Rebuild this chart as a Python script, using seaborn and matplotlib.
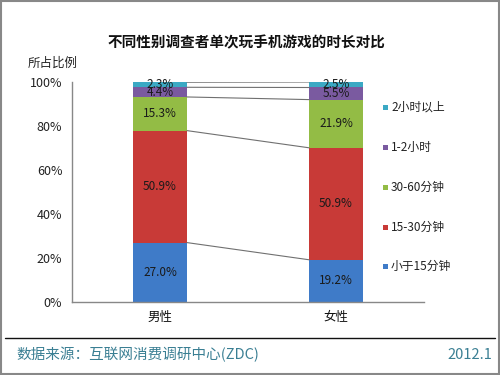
import numpy as np
import pandas as pd
import matplotlib
matplotlib.use("Agg")
import matplotlib.pyplot as plt
from matplotlib.patches import Rectangle
from matplotlib.lines import Line2D
import seaborn as sns

sns.set_style("white")
plt.rcParams['font.family'] = ['Noto Sans CJK SC', 'DejaVu Sans']

# ---- data ----
genders = ["男性", "女性"]
series_names = ["小于15分钟", "15-30分钟", "30-60分钟", "1-2小时", "2小时以上"]
under15 = [27.0, 19.2]
m15_30 = [50.9, 50.9]
m30_60 = [15.3, 21.9]
h1_2 = [4.4, 5.5]
over2h = [2.3, 2.5]
yticks = [0, 20, 40, 60, 80, 100]
title = "不同性别调查者单次玩手机游戏的时长对比"
ylabel = "所占比例"
source = "数据来源：互联网消费调研中心(ZDC)"
date_text = "2012.1"

colors = ["#3F7BC8", "#C83A37", "#93BC45", "#7A5AA0", "#3BA9C4"]

values = np.array([under15, m15_30, m30_60, h1_2, over2h])
cum = np.cumsum(values, axis=0)
bottoms = cum - values

fig = plt.figure(figsize=(5, 3.75), dpi=100)
W, H = 500, 375
ax = fig.add_axes([72 / W, 1 - 302 / H, (424 - 72) / W, (302 - 82) / H])

bw = 0.307
for i in range(len(series_names) - 1, -1, -1):
    df = pd.DataFrame({"gender": genders, "value": cum[i]})
    sns.barplot(data=df, x="gender", y="value", color=colors[i], width=bw,
                ax=ax, saturation=1, edgecolor="none", linewidth=0, errorbar=None)

for i in range(len(series_names)):
    ax.plot([0 + bw / 2, 1 - bw / 2], [cum[i][0], cum[i][1]],
            color="#707070", lw=0.8, zorder=3)

for i in range(len(series_names)):
    for j in range(len(genders)):
        ax.text(j, bottoms[i][j] + values[i][j] / 2, f"{values[i][j]:.1f}%",
                ha="center", va="center", fontsize=8.5, color="#1a1a1a", zorder=4)

ax.set_xlim(-0.5, 1.5)
ax.set_ylim(0, 100)
ax.set_yticks(yticks)
ax.set_yticklabels([f"{t}%" for t in yticks], fontsize=9, color="#222222")
ax.set_xticks([-0.5, 0.5, 1.5], minor=False)
ax.set_xticklabels(["", "", ""])
ax.set_xlabel("")
ax.set_ylabel("")
for j, g in enumerate(genders):
    ax.text(j, -4, g, ha="center", va="top", fontsize=9, color="#111111",
            transform=ax.transData)
for s in ["top", "right"]:
    ax.spines[s].set_visible(False)
for s in ["left", "bottom"]:
    ax.spines[s].set_color("#888888")
    ax.spines[s].set_linewidth(1)
ax.tick_params(axis="y", direction="out", length=4, color="#888888", pad=3)
ax.tick_params(axis="x", direction="out", length=3, color="#888888")
ax.patch.set_alpha(0)

fig.text(246 / W, 1 - 42 / H, title, ha="center", va="center", fontsize=10.5,
         fontweight="bold", color="#111111")
fig.text(53 / W, 1 - 63 / H, ylabel, ha="center", va="center", fontsize=9,
         color="#222222")

leg_y = [266, 227, 187, 147, 107]
for i, name in enumerate(series_names):
    y = leg_y[i]
    fig.patches.append(Rectangle((383 / W, 1 - (y + 2.5) / H), 5 / W, 5 / H,
                                 transform=fig.transFigure, facecolor=colors[i],
                                 edgecolor="none"))
    fig.text(391 / W, 1 - y / H, name, ha="left", va="center", fontsize=8.5,
             color="#222222")

fig.lines.append(Line2D([5 / W, 495 / W], [1 - 338 / H, 1 - 338 / H],
                        transform=fig.transFigure, color="#111111", lw=1))
fig.text(16 / W, 1 - 355 / H, source, ha="left", va="center", fontsize=10.5,
         color="#3A7F93")
fig.text(492 / W, 1 - 355 / H, date_text, ha="right", va="center", fontsize=10.5,
         color="#3A7F93")

fig.patches.append(Rectangle((0.002, 0.003), 0.996, 0.994, transform=fig.transFigure,
                             facecolor="none", edgecolor="#888888", lw=1.5))

fig.savefig("out.png", dpi=100)
